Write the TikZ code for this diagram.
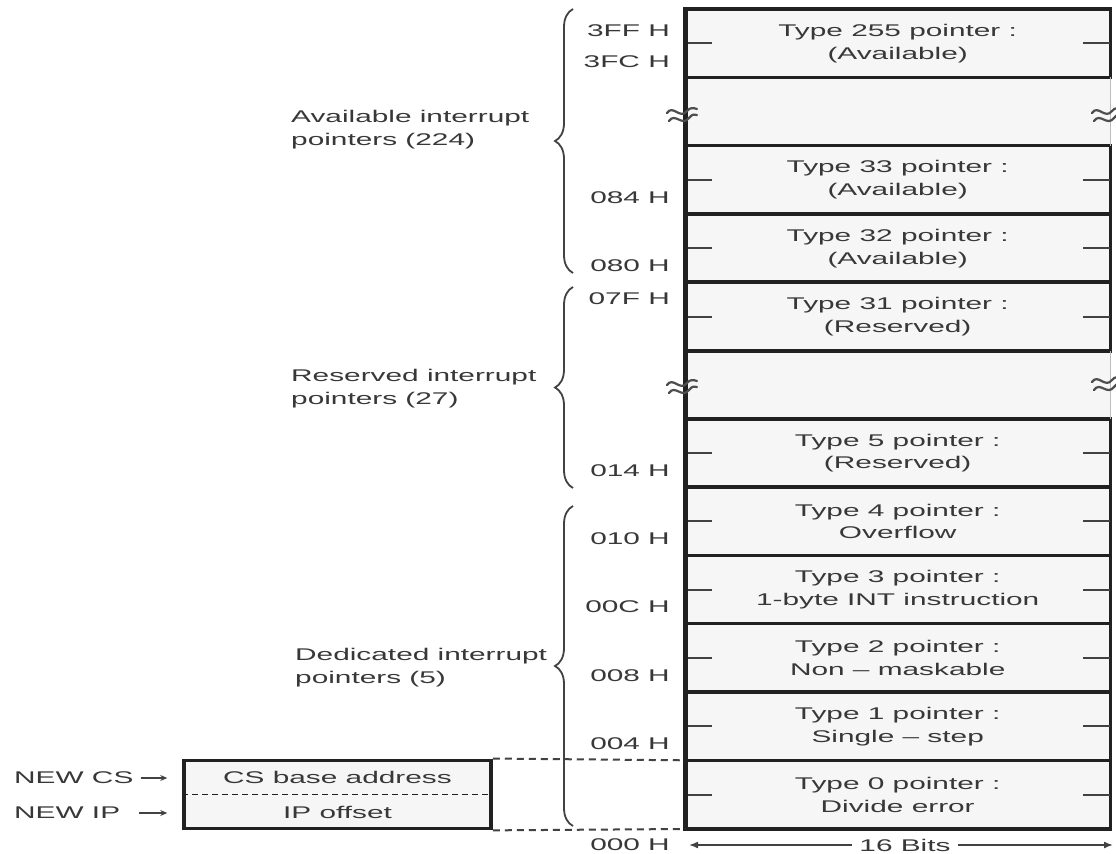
\documentclass[tikz,border=0pt]{standalone}
\usepackage{fontspec}
\setmainfont{Liberation Sans}[FakeStretch=1.76]
\usetikzlibrary{decorations.pathreplacing,arrows.meta}
\definecolor{ink}{gray}{0.13}
\definecolor{txt}{gray}{0.22}
\definecolor{cellbg}{gray}{0.965}
\begin{document}
\begin{tikzpicture}[x=1bp,y=-1bp,
  font=\fontsize{17}{23}\selectfont,
  every node/.style={text=txt, inner sep=0pt},
  cell/.style={minimum width=425bp, minimum height=68.3bp, align=center, anchor=north west},
  frame/.style={draw=ink, line width=3.5bp},
  tick/.style={draw=ink!85, line width=2bp},
  addr/.style={anchor=east},
  group/.style={anchor=west, align=left},
  bracestyle/.style={draw=ink!85, line width=1.8bp, decorate, decoration={brace, amplitude=18bp}},
  gapline/.style={draw=ink!85, line width=2bp, dash pattern=on 7bp off 5bp},
  squig/.style={draw=ink!80, line width=2.2bp, line cap=round},
  ptr/.style={draw=ink!85, line width=1.3bp, -{Stealth[length=7bp,width=6bp]}},
  dim/.style={draw=ink!85, line width=1.6bp, -{Latex[length=9bp,width=7bp]}},
]
\useasboundingbox (0,0) rectangle (1116,854);
\fill[white] (0,0) rectangle (1116,854);

% interrupt vector table entries (4 bytes each)
\foreach \k/\nm/\la/\lb in {
  0/t255/{Type 255 pointer :}/{(Available)},
  2/t33/{Type 33 pointer :}/{(Available)},
  3/t32/{Type 32 pointer :}/{(Available)},
  4/t31/{Type 31 pointer :}/{(Reserved)},
  6/t5/{Type 5 pointer :}/{(Reserved)},
  7/t4/{Type 4 pointer :}/{Overflow},
  8/t3/{Type 3 pointer :}/{1-byte INT instruction},
  9/t2/{Type 2 pointer :}/{Non -- maskable},
  10/t1/{Type 1 pointer :}/{Single -- step},
  11/t0/{Type 0 pointer :}/{Divide error}} {
  \node[cell, fill=cellbg] (\nm) at (685,{9+68.3*\k}) {\la\\\lb};
  \draw[frame] (\nm.north west) rectangle (\nm.south east);
  \draw[tick] (\nm.west) -- ++(27,0);
  \draw[tick] (\nm.east) -- ++(-27,0);
}

% elided ranges
\node[cell, fill=cellbg] (gap1) at (685,{9+68.3}) {};
\node[cell, fill=cellbg] (gap2) at (685,{9+68.3*5}) {};
\draw[frame] (t255.south west) -- (t255.south east);
\draw[frame] (t33.north west) -- (t33.north east);
\draw[frame] (t31.south west) -- (t31.south east);
\draw[frame] (t5.north west) -- (t5.north east);
\draw[draw=ink!30, line width=1.5bp] (gap1.north east) -- (gap1.south east);
\draw[draw=ink!30, line width=1.5bp] (gap2.north east) -- (gap2.south east);

% heavy left edge of the table
\draw[draw=ink, line width=5bp] (t255.north west) -- (t0.south west);

% break marks
\foreach \bx/\by in {685/112, 1110/112, 685/384, 1110/381} {
  \begin{scope}[shift={(\bx,\by)}]
    \draw[squig] (-18,1) .. controls (-12,-8) and (-5,8) .. (2,-1) .. controls (5,-5) and (9,-4) .. (12,-3);
    \draw[squig] (-16,9) .. controls (-10,0) and (-3,15) .. (4,6) .. controls (7,2) and (10,2) .. (12,3);
  \end{scope}
}

% addresses
\node[addr] (a3ff) at (670,31) {3FF H};
\node[addr] (a3fc) at (670,62) {3FC H};
\node[addr] (a084) at (670,198) {084 H};
\node[addr] (a080) at (670,266) {080 H};
\node[addr] (a07f) at (670,299) {07F H};
\node[addr] (a014) at (670,471) {014 H};
\node[addr] (a010) at (670,539) {010 H};
\node[addr] (a00c) at (670,607) {00C H};
\node[addr] (a008) at (670,676) {008 H};
\node[addr] (a004) at (670,744) {004 H};
\node[addr] (a000) at (670,845) {000 H};

% groups of pointers
\coordinate (avb) at (573,273); \coordinate (avt) at (573,9);
\coordinate (rsb) at (573,488); \coordinate (rst) at (573,287);
\coordinate (ddb) at (573,826); \coordinate (ddt) at (573,506);
\draw[bracestyle] (avb) -- (avt);
\draw[bracestyle] (rsb) -- (rst);
\draw[bracestyle] (ddb) -- (ddt);
\node[group] (gav) at (291,130) {Available interrupt\\pointers (224)};
\node[group] (grs) at (291,389) {Reserved interrupt\\pointers (27)};
\node[group] (gdd) at (295,668) {Dedicated interrupt\\pointers (5)};

% new CS:IP loaded from the type 0 entry
\node[frame, fill=cellbg, minimum width=307bp, minimum height=68.3bp] (csbox) at (337.5,794.45) {};
\draw[draw=ink, line width=1.6bp, dash pattern=on 6bp off 4bp] (csbox.west) -- (csbox.east);
\node (cs) at (337.5,777) {CS base address};
\node (ip) at (337.5,812) {IP offset};
\node[anchor=west] (newcs) at (14,778) {NEW CS};
\node[anchor=west] (newip) at (14,813) {NEW IP};
\draw[ptr, shorten <=7bp, shorten >=15bp] (newcs.east) -- (csbox.west |- newcs);
\draw[ptr, shorten <=19bp, shorten >=15bp] (newip.east) -- (csbox.west |- newip);
\draw[gapline] (csbox.north east) -- (t0.north west);
\draw[gapline] (csbox.south east) -- (t0.south west);

% word width
\node[fill=white, inner xsep=7bp] (bits) at (905,845) {16 Bits};
\coordinate (bl) at (689,845);
\coordinate (br) at (1113,845);
\draw[dim] (bits.west) -- (bl);
\draw[dim] (bits.east) -- (br);
\end{tikzpicture}
\end{document}
